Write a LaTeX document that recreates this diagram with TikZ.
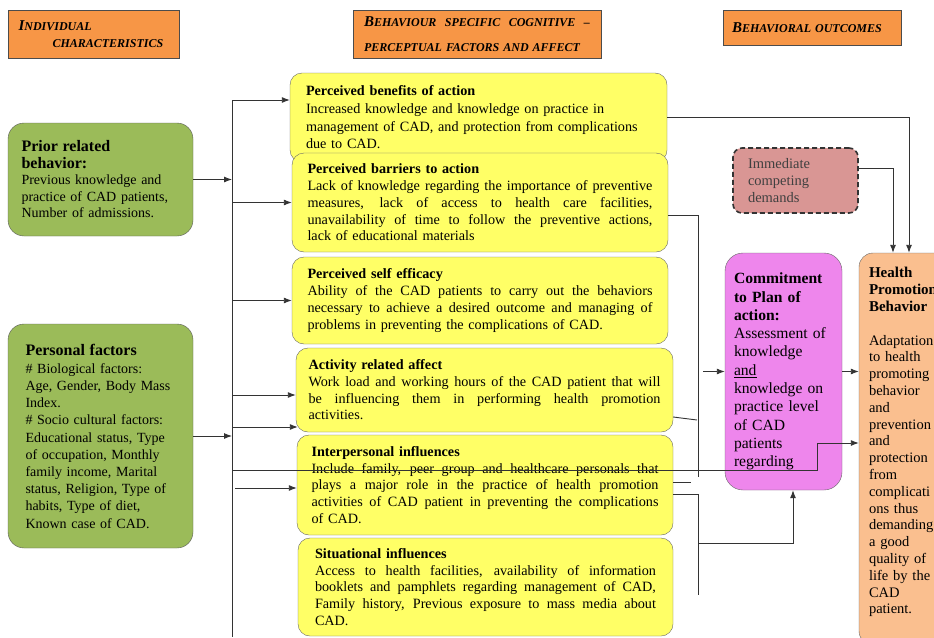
\documentclass[tikz,border=0pt]{standalone}
\usepackage{fontspec}
\setmainfont{Liberation Serif}
\usetikzlibrary{arrows.meta}

\definecolor{hdorange}{RGB}{247,150,70}
\definecolor{grn}{RGB}{155,187,89}
\definecolor{yel}{RGB}{255,255,102}
\definecolor{rosy}{RGB}{217,150,148}
\definecolor{cmtviolet}{RGB}{238,134,236}
\definecolor{peach}{RGB}{250,191,143}

\newcommand{\bigc}[1]{{\fontsize{15}{15}\selectfont #1}}
\newcommand{\smc}[1]{{\fontsize{12}{12}\selectfont #1}}
\newcommand{\jl}[2]{\makebox[#1][s]{\spaceskip=0pt\xspaceskip=0pt #2}}

\begin{document}
\begin{tikzpicture}
            [x=1pt, y=-1pt, >={Latex[length=8pt,width=6pt]},
             hdbox/.style={draw=black!70, fill=hdorange, inner sep=0pt, align=left,
                           font=\bfseries\itshape\fontsize{12}{17}\selectfont},
             greenbox/.style={draw=black!65, fill=grn, rounded corners=16pt, inner sep=0pt,
                           align=left, minimum width=185pt},
             yelbox/.style={draw=black!60, fill=yel, rounded corners=12pt, inner sep=0pt,
                           align=left, font=\fontsize{14.2}{16.7}\selectfont},
             link/.style={draw=black!80, line width=0.9pt}]
            \useasboundingbox (0,0) rectangle (934,637);
            \clip (0,0) rectangle (934,637);

            % column headers
            \node[hdbox, minimum width=171pt, minimum height=48pt, text width=150pt] (hdind) at (93.5, 34)
                {\bigc{I}\smc{NDIVIDUAL}\\\hspace*{34pt}\smc{CHARACTERISTICS}};
            \node[hdbox, minimum width=248pt, minimum height=48pt, text width=226pt] (hdbeh) at (477, 34)
                {\jl{226pt}{\bigc{B}\smc{EHAVIOUR SPECIFIC COGNITIVE –}}\\[8pt]\smc{PERCEPTUAL FACTORS AND AFFECT}};
            \node[hdbox, minimum width=178pt, minimum height=35pt, text width=160pt] (hdout) at (812, 27.5)
                {\bigc{B}\smc{EHAVIORAL OUTCOMES}};

            % individual characteristics
            \node[greenbox, minimum height=113pt, text width=158pt, font=\fontsize{14}{16.5}\selectfont] (prior) at (100.5, 179.5)
                {{\fontsize{16}{18}\selectfont\bfseries Prior related\\behavior:}\\Previous knowledge and\\practice of CAD patients,\\Number of admissions.};
            \node[greenbox, minimum height=224pt, text width=150pt, font=\fontsize{14}{17.2}\selectfont] (personal) at (100.5, 436)
                {{\fontsize{16}{18}\selectfont\bfseries Personal factors}\\[1pt]\# Biological factors:\\Age, Gender, Body Mass\\Index.\\\# Socio cultural factors:\\Educational status, Type\\of occupation, Monthly\\family income, Marital\\status, Religion, Type of\\habits, Type of diet,\\Known case of CAD.};

            % behaviour specific cognitions
            \node[yelbox, minimum width=377pt, minimum height=89pt, text width=345pt, font=\fontsize{14.2}{17.7}\selectfont] (benefits) at (478.5, 117.5)
                {\textbf{Perceived benefits of action}\\Increased knowledge and knowledge on practice in\\management of CAD, and protection from complications\\due to CAD.};
            \node[yelbox, minimum width=376pt, minimum height=99pt, text width=345pt] (barriers) at (480, 202.5)
                {\textbf{Perceived barriers to action}\\\jl{345pt}{Lack of knowledge regarding the importance of preventive}\\\jl{345pt}{measures, lack of access to health care facilities,}\\\jl{345pt}{unavailability of time to follow the preventive actions,}\\lack of educational materials};
            \node[yelbox, minimum width=376pt, minimum height=87pt, text width=345pt] (selfeff) at (480, 300.5)
                {\textbf{Perceived self efficacy}\\\jl{345pt}{Ability of the CAD patients to carry out the behaviors}\\\jl{345pt}{necessary to achieve a desired outcome and managing of}\\problems in preventing the complications of CAD.};
            \node[yelbox, minimum width=377pt, minimum height=84pt, text width=352pt] (activity) at (484.5, 390)
                {\textbf{Activity related affect}\\\jl{352pt}{Work load and working hours of the CAD patient that will}\\\jl{352pt}{be influencing them in performing health promotion}\\activities.};
            \node[yelbox, minimum width=376pt, minimum height=100pt, text width=347pt] (interp) at (485, 485)
                {\textbf{Interpersonal influences}\\\jl{347pt}{Include family, peer group and healthcare personals that}\\\jl{347pt}{plays a major role in the practice of health promotion}\\\jl{347pt}{activities of CAD patient in preventing the complications}\\of CAD.};
            \node[yelbox, minimum width=375pt, minimum height=98pt, text width=341pt] (situat) at (485.5, 587)
                {\textbf{Situational influences}\\\jl{341pt}{Access to health facilities, availability of information}\\\jl{341pt}{booklets and pamphlets regarding management of CAD,}\\\jl{341pt}{Family history, Previous exposure to mass media about}\\CAD.};

            % behavioral outcomes
            \node[draw=black!80, dash pattern=on 5pt off 3pt, line width=1.6pt, fill=rosy, rounded corners=9pt,
                  minimum width=125pt, minimum height=65pt, text width=95pt, inner sep=0pt, align=left,
                  text=black!75, font=\fontsize{14.5}{16.7}\selectfont] (immed) at (795.5, 180.5)
                {Immediate\\competing\\demands};
            \node[draw=black!60, fill=cmtviolet, rounded corners=18pt, minimum width=117pt, minimum height=237pt,
                  text width=99pt, inner sep=0pt, align=left, font=\fontsize{15.6}{18.3}\selectfont] (commit) at (783.5, 371.5)
                {\textbf{Commitment}\\\textbf{to Plan of}\\\textbf{action:}\\Assessment of\\knowledge\\\underline{and}\\knowledge on\\practice level\\of CAD\\patients\\regarding};
            \node[draw=black!60, fill=peach, rounded corners=14pt, minimum width=92pt, minimum height=392pt,
                  text width=72pt, inner sep=0pt, align=left, font=\fontsize{14.5}{16.8}\selectfont] (health) at (905, 449)
                {{\fontsize{15}{16.8}\selectfont\bfseries Health\\Promotion\\Behavior}\\\mbox{}\\Adaptation\\to health\\promoting\\behavior\\and\\prevention\\and\\protection\\from\\complicati\\ons thus\\demanding\\a good\\quality of\\life by the\\CAD\\patient.\\\mbox{}};

            % left bus
            \coordinate (busT) at (232, 100);
            \coordinate (busB) at (232, 637);
            \coordinate (crossA) at (232, 470);
            \coordinate (crossB) at (817, 470);
            \coordinate (ipIn) at (235, 488);
            \path [link] (busT) -- (busB);
            \path [link, ->] (busT) -- (busT -| benefits.west);
            \path [link, ->] (prior.east) -- (prior.east -| busT);
            \path [link, ->] (barriers.west -| busT) -- (barriers.west);
            \path [link, ->] (selfeff.west -| busT) -- (selfeff.west);
            \path [link, ->] ([yshift=-5pt]activity.west -| busT) -- ([yshift=-5pt]activity.west);
            \path [link, ->] ([yshift=-37pt]activity.west -| busT) -- ([yshift=-37pt,xshift=2pt]activity.west);
            \path [link, ->] (personal.east) -- (personal.east -| busT);
            \path [link, ->] (ipIn) -- (ipIn -| interp.west);
            \path [link, ->] (crossA) -- (crossB) |- ([yshift=6pt]health.west);

            % right side
            \coordinate (rbT) at (698, 215);
            \coordinate (rbB) at (698, 477);
            \coordinate (rbA) at (697, 420);
            \coordinate (rcT) at (698, 494);
            \coordinate (rcM) at (698, 543);
            \coordinate (rcB) at (698, 595);
            \coordinate (cmIn) at (703, 371.5);
            \path [link] (rbT -| barriers.east) -- (rbT) -- (rbB);
            \path [link] ([yshift=-27pt]activity.east) -- (rbA);
            \path [link] ([yshift=3pt]interp.east) -- ++(18, 0);
            \path [link] (rcT -| interp.east) -- (rcT) -- (rcB);
            \path [link, ->] (rcM) -| ([xshift=9.5pt]commit.south);
            \path [link, ->] (cmIn) -- (commit.west);
            \path [link, ->] (commit.east) -- (commit.east -| health.west);
            \path [link, ->] (benefits.east) -| ([xshift=4pt]health.north);
            \path [link, ->] ([yshift=12pt]immed.east) -| ([xshift=-12pt]health.north);
        \end{tikzpicture}
\end{document}
